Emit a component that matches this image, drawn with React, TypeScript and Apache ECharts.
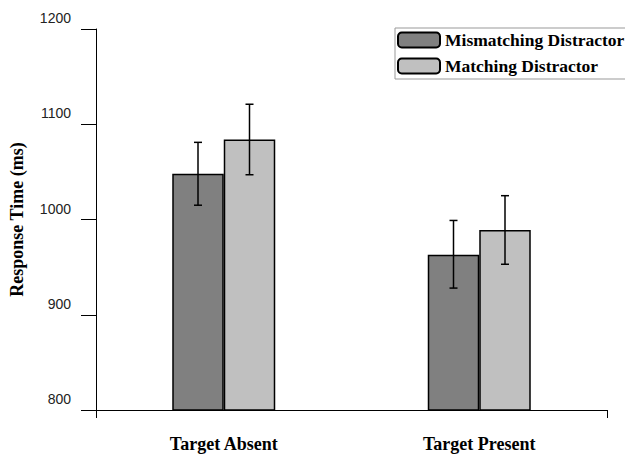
import React, { useEffect, useRef } from "react";
import * as echarts from "echarts";

const categories = ["Target Absent", "Target Present"];
const seriesNames = ["Mismatching Distractor", "Matching Distractor"];
const mismatchingMeans = [1048, 963];
const matchingMeans = [1084, 989];
const mismatchingLow = [1015, 928];
const mismatchingHigh = [1081, 999];
const matchingLow = [1047, 953];
const matchingHigh = [1121, 1025];
const yTicks = { min: 800, max: 1200, interval: 100 };

const BAR_W = 51.5;

export default function App() {
  const ref = useRef<HTMLDivElement>(null);
  useEffect(() => {
    if (!ref.current) return;
    const chart = echarts.init(ref.current, undefined, { renderer: "svg" });
    const errData: any[] = [];
    categories.forEach((_, i) => {
      errData.push([i, mismatchingLow[i], mismatchingHigh[i], 0]);
      errData.push([i, matchingLow[i], matchingHigh[i], 1]);
    });
    const serif = "'Liberation Serif', 'Times New Roman', serif";
    chart.setOption({
      animation: false,
      backgroundColor: "#fff",
      grid: { left: 95, right: 18, top: 29, bottom: 44 },
      legend: {
        left: 395,
        top: 28,
        orient: "vertical",
        itemWidth: 42,
        itemHeight: 15,
        itemGap: 8,
        padding: [3, 2, 4, 2],
        borderColor: "#999",
        borderWidth: 1,
        data: seriesNames,
        textStyle: { fontFamily: serif, fontWeight: "bold", fontSize: 17.5, color: "#000" },
      },
      xAxis: [
        {
          type: "category",
          data: categories,
          axisLine: { lineStyle: { color: "#000", width: 1 } },
          axisTick: { alignWithLabel: true, length: 15, lineStyle: { color: "#000" } },
          axisLabel: {
            margin: 25,
            fontFamily: serif,
            fontWeight: "bold",
            fontSize: 18,
            color: "#000",
          },
        },
        {
          type: "value",
          position: "bottom",
          min: 0,
          max: 1,
          interval: 1,
          axisLine: { show: false },
          axisTick: { show: true, length: 8, lineStyle: { color: "#000" } },
          axisLabel: { show: false },
          splitLine: { show: false },
        },
      ],
      yAxis: {
        type: "value",
        min: yTicks.min,
        max: yTicks.max,
        interval: yTicks.interval,
        name: "Response Time (ms)",
        nameLocation: "middle",
        nameGap: 70,
        nameTextStyle: { fontFamily: serif, fontWeight: "bold", fontSize: 18, color: "#000" },
        axisLine: { show: true, lineStyle: { color: "#000", width: 1 } },
        axisTick: { show: true, length: 15, lineStyle: { color: "#000" } },
        splitLine: { show: false },
        axisLabel: {
          margin: 25,
          formatter: (v: number) => String(v),
          fontFamily: "'Liberation Sans', Arial, sans-serif",
          fontSize: 14,
          color: "#222",
          verticalAlign: "bottom",
          padding: [0, 0, 4, 0],
        },
      },
      series: [
        {
          name: seriesNames[0],
          type: "bar",
          data: mismatchingMeans,
          barWidth: BAR_W,
          barGap: "0%",
          itemStyle: { color: "#808080", borderColor: "#000", borderWidth: 1.5 },
        },
        {
          name: seriesNames[1],
          type: "bar",
          data: matchingMeans,
          barWidth: BAR_W,
          barGap: "0%",
          itemStyle: { color: "#c0c0c0", borderColor: "#000", borderWidth: 1.5 },
        },
        {
          type: "custom",
          data: errData,
          z: 10,
          renderItem: (params: any, api: any) => {
            const cat = api.value(0);
            const lo = api.coord([cat, api.value(1)]);
            const hi = api.coord([cat, api.value(2)]);
            const off = api.value(3) === 0 ? -BAR_W / 2 : BAR_W / 2;
            const x = lo[0] + off;
            const cap = 4;
            const style = { stroke: "#000", lineWidth: 1.5 };
            return {
              type: "group",
              children: [
                { type: "line", shape: { x1: x, y1: lo[1], x2: x, y2: hi[1] }, style },
                { type: "line", shape: { x1: x - cap, y1: lo[1], x2: x + cap, y2: lo[1] }, style },
                { type: "line", shape: { x1: x - cap, y1: hi[1], x2: x + cap, y2: hi[1] }, style },
              ],
            };
          },
        },
      ],
    });
    return () => chart.dispose();
  }, []);
  return (
    <div
      ref={ref}
      style={{ position: "fixed", left: 0, top: 0, width: 625, height: 454 }}
    />
  );
}
